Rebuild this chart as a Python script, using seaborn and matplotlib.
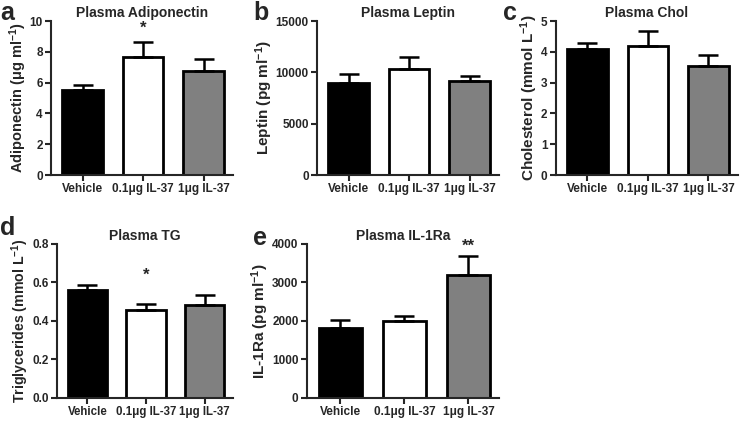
import matplotlib
matplotlib.use("Agg")
import matplotlib.pyplot as plt
import seaborn as sns

# groups and bar colours
groups = ["Vehicle", "0.1μg IL-37", "1μg IL-37"]
bar_colors = ["black", "white", "#808080"]

# mean values and upper error (SEM)
adiponectin = [5.5, 7.65, 6.75]
adiponectin_err = [0.35, 1.0, 0.8]
leptin = [8950, 10300, 9150]
leptin_err = [850, 1200, 450]
chol = [4.1, 4.18, 3.53]
chol_err = [0.2, 0.49, 0.37]
tg = [0.56, 0.455, 0.483]
tg_err = [0.025, 0.032, 0.053]
il1ra = [1830, 2010, 3190]
il1ra_err = [200, 120, 490]

sns.set_style("ticks")
plt.rcParams["font.family"] = ["Liberation Sans", "DejaVu Sans"]
plt.rcParams["font.weight"] = "bold"
plt.rcParams["axes.titleweight"] = "bold"
plt.rcParams["axes.labelweight"] = "bold"
plt.rcParams["mathtext.fontset"] = "custom"
plt.rcParams["mathtext.bf"] = "Liberation Sans:bold"
plt.rcParams["mathtext.rm"] = "Liberation Sans:bold"
plt.rcParams["mathtext.default"] = "bf"

fig = plt.figure(figsize=(7.45, 4.29), dpi=100)


def panel(rect, vals, errs, title, ylabel, ymax, step, fmt, star=None,
          xsize=8.5, ysize=11):
    ax = fig.add_axes(rect)
    sns.barplot(x=groups, y=vals, hue=groups, palette=bar_colors, legend=False,
                saturation=1, edgecolor="black", linewidth=2, width=0.67, ax=ax)
    ax.errorbar(range(len(groups)), vals, yerr=[[0] * len(errs), errs], fmt="none",
                ecolor="black", elinewidth=1.8, capsize=7, capthick=1.8, zorder=1)
    ax.set_xlim(-0.52, 2.48)
    ax.set_ylim(0, ymax)
    ticks = [i * step for i in range(int(round(ymax / step)) + 1)]
    ax.set_yticks(ticks)
    ax.set_yticklabels([fmt.format(t) for t in ticks])
    ax.set_title(title, fontsize=10, pad=3)
    ax.set_ylabel(ylabel, fontsize=ysize, labelpad=0.5)
    ax.set_xlabel("")
    ax.tick_params(width=1.5, length=4, labelsize=8.5, pad=2)
    ax.tick_params(axis="x", labelsize=xsize)
    for s in ["left", "bottom"]:
        ax.spines[s].set_linewidth(1.5)
    sns.despine(ax=ax)
    if star:
        idx, y, txt = star
        ax.text(idx, y, txt, ha="center", va="center", fontsize=12)
    return ax


panel([0.0685, 0.592, 0.244, 0.359], adiponectin, adiponectin_err,
      "Plasma Adiponectin", r"Adiponectin (μg ml$^{-1}$)", 10, 2, "{:.0f}",
      star=(1, 9.5, "*"), ysize=10.5)
panel([0.4255, 0.592, 0.244, 0.359], leptin, leptin_err,
      "Plasma Leptin", r"Leptin (pg ml$^{-1}$)", 15000, 5000, "{:.0f}")
panel([0.746, 0.592, 0.244, 0.359], chol, chol_err,
      "Plasma Chol", r"Cholesterol (mmol L$^{-1}$)", 5, 1, "{:.0f}")
panel([0.0765, 0.0723, 0.236, 0.359], tg, tg_err,
      "Plasma TG", r"Triglycerides (mmol L$^{-1}$)", 0.8, 0.2, "{:.1f}",
      star=(1, 0.635, "*"), xsize=8.3, ysize=10.2)
panel([0.412, 0.0723, 0.258, 0.359], il1ra, il1ra_err,
      "Plasma IL-1Ra", r"IL-1Ra (pg ml$^{-1}$)", 4000, 1000, "{:.0f}",
      star=(2, 3950, "**"))

# panel letters
for x, y, letter in [(0.0, 0.953, "a"), (0.340, 0.953, "b"), (0.675, 0.953, "c"),
                     (0.0, 0.453, "d"), (0.340, 0.428, "e")]:
    fig.text(x, y, letter, fontsize=18, fontweight="bold", va="baseline")

fig.savefig("out.png", dpi=100)
